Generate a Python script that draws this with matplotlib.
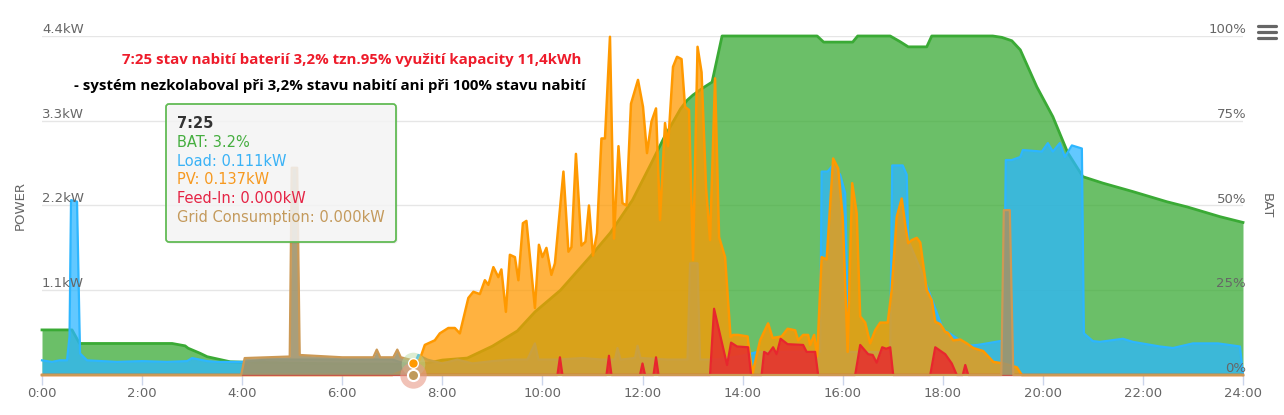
import numpy as np
import matplotlib
matplotlib.use("Agg")
import matplotlib.pyplot as plt
import matplotlib.transforms as mtrans
from matplotlib.patches import FancyBboxPatch
from matplotlib.lines import Line2D

# ---------------- data ----------------
x_tick_hours = list(range(0, 25, 2))
x_tick_labels = [f"{h}:00" for h in x_tick_hours]
power_ticks = [1.1, 2.2, 3.3, 4.4]
power_labels = ["1.1kW", "2.2kW", "3.3kW", "4.4kW"]
bat_ticks = [0, 25, 50, 75, 100]
bat_labels = ["0%", "25%", "50%", "75%", "100%"]

bat_points = [(0, 13.3), (0.6, 13.3), (0.75, 9.3), (2.6, 9.3), (2.86, 8.6), (2.92, 7.9),
              (3.16, 6.4), (3.3, 5.4), (3.76, 3.9), (4.0, 3.8), (5.0, 3.5), (6.0, 3.3),
              (7.42, 3.2), (7.7, 3.5), (8.0, 4.4), (8.5, 5.0), (9.0, 8.5), (9.5, 13.0),
              (9.85, 18.6), (10.36, 25.0), (10.96, 35.0), (11.36, 42.0), (11.8, 51.6),
              (12.16, 62.0), (12.43, 70.0), (12.76, 78.5), (12.89, 81.0), (13.01, 82.6),
              (13.21, 84.7), (13.39, 86.4), (13.59, 100), (15.49, 100), (15.62, 98.2),
              (16.2, 98.2), (16.3, 100), (16.95, 100), (17.15, 98.3), (17.31, 96.8),
              (17.68, 96.8), (17.78, 100), (19.0, 100), (19.18, 99.6), (19.38, 98.6),
              (19.55, 95.9), (19.88, 85.0), (20.2, 76.2), (20.5, 65.5), (20.8, 58.5),
              (21.2, 56.6), (21.8, 54.1), (22.48, 51.1), (22.88, 49.6), (23.54, 46.7),
              (24.0, 45.0)]

load_points = [(0, 0.19), (0.2, 0.17), (0.35, 0.19), (0.5, 0.19), (0.55, 0.5), (0.58, 2.27),
               (0.7, 2.25), (0.76, 0.28), (0.9, 0.19), (1.5, 0.17), (2.0, 0.18), (2.5, 0.17),
               (2.9, 0.18), (3.0, 0.22), (3.3, 0.18), (3.5, 0.17), (4.0, 0.17), (4.5, 0.2),
               (6.0, 0.2), (7.0, 0.2), (7.42, 0.111), (7.52, 0.26), (7.7, 0.2), (8.0, 0.15),
               (8.3, 0.2), (8.6, 0.15), (9.0, 0.18), (9.4, 0.2), (9.7, 0.2), (9.85, 0.41),
               (9.92, 0.2), (10.3, 0.2), (10.8, 0.22), (11.2, 0.2), (11.45, 0.2), (11.5, 0.35),
               (11.56, 0.2), (11.85, 0.22), (11.9, 0.38), (11.96, 0.22), (12.5, 0.2),
               (12.9, 0.2), (12.95, 1.45), (13.1, 1.45), (13.15, 0.2), (13.5, 0.2),
               (14.0, 0.25), (14.3, 0.3), (14.6, 0.3), (15.0, 0.3), (15.55, 0.3),
               (15.58, 2.64), (15.7, 2.64), (15.8, 2.72), (15.95, 2.6), (16.05, 2.36),
               (16.12, 0.3), (16.5, 0.3), (16.95, 0.3), (16.99, 2.72), (17.2, 2.72),
               (17.28, 2.6), (17.31, 1.75), (17.6, 1.3), (18.0, 0.6), (18.5, 0.38),
               (18.7, 0.39), (19.15, 0.44), (19.22, 0.44), (19.26, 2.79), (19.38, 2.79),
               (19.55, 2.83), (19.6, 2.92), (19.98, 2.9), (20.1, 3.01), (20.2, 2.9),
               (20.34, 3.01), (20.44, 2.83), (20.58, 2.98), (20.78, 2.94), (20.82, 0.54),
               (21.0, 0.44), (21.14, 0.43), (21.6, 0.47), (21.8, 0.43), (22.34, 0.37),
               (22.6, 0.35), (23.0, 0.41), (23.5, 0.41), (23.94, 0.37), (24.0, 0.0)]

pv_points = [(0, 0.0), (7.0, 0.0), (7.2, 0.05), (7.42, 0.137), (7.55, 0.2), (7.65, 0.39),
             (7.85, 0.45), (7.95, 0.54), (8.12, 0.61), (8.25, 0.61), (8.35, 0.54), (8.52, 1.0),
             (8.62, 1.08), (8.75, 1.05), (8.85, 1.23), (8.92, 1.17), (9.02, 1.4), (9.12, 1.27),
             (9.18, 1.37), (9.27, 0.82), (9.35, 1.56), (9.45, 1.53), (9.52, 1.23), (9.61, 1.97),
             (9.68, 2.0), (9.85, 0.87), (9.93, 1.69), (10.0, 1.53), (10.08, 1.65), (10.18, 1.3),
             (10.25, 1.45), (10.42, 2.64), (10.52, 1.6), (10.58, 1.66), (10.67, 2.87),
             (10.78, 1.68), (10.86, 1.73), (10.93, 2.2), (11.01, 1.55), (11.09, 1.84),
             (11.18, 3.07), (11.25, 3.07), (11.35, 4.39), (11.43, 1.77), (11.52, 2.97),
             (11.6, 2.23), (11.68, 2.2), (11.77, 3.52), (11.91, 3.83), (12.01, 3.48),
             (12.09, 2.88), (12.18, 3.29), (12.27, 3.46), (12.35, 2.01), (12.45, 3.27),
             (12.51, 2.97), (12.61, 4.0), (12.69, 4.13), (12.78, 4.1), (12.85, 3.48),
             (12.93, 3.44), (13.01, 1.49), (13.1, 4.26), (13.18, 3.93), (13.27, 2.43),
             (13.35, 1.75), (13.45, 3.85), (13.53, 1.79), (13.65, 1.53), (13.76, 0.49),
             (13.81, 0.52), (13.91, 0.52), (14.1, 0.5), (14.15, 0.23), (14.2, 0.02),
             (14.35, 0.45), (14.51, 0.67), (14.6, 0.48), (14.78, 0.5), (14.9, 0.6),
             (15.05, 0.58), (15.11, 0.45), (15.21, 0.52), (15.31, 0.52), (15.35, 0.39),
             (15.43, 0.52), (15.49, 0.24), (15.58, 1.53), (15.68, 1.5), (15.81, 2.81),
             (15.91, 2.68), (16.0, 2.05), (16.1, 0.3), (16.19, 2.49), (16.28, 2.1),
             (16.35, 0.76), (16.45, 0.68), (16.55, 0.41), (16.65, 0.58), (16.75, 0.68),
             (16.9, 0.68), (16.98, 1.1), (17.08, 2.05), (17.18, 2.29), (17.25, 1.95),
             (17.31, 1.71), (17.38, 1.75), (17.48, 1.78), (17.55, 1.72), (17.68, 1.1),
             (17.78, 0.97), (17.85, 0.69), (17.95, 0.66), (18.05, 0.56), (18.1, 0.55),
             (18.21, 0.45), (18.35, 0.46), (18.48, 0.41), (18.61, 0.35), (18.81, 0.31),
             (19.01, 0.17), (19.21, 0.15), (19.48, 0.1), (19.58, 0.0), (24.0, 0.0)]

feed_points = [(0, 0), (10.3, 0), (10.35, 0.23), (10.4, 0), (11.28, 0), (11.33, 0.25),
               (11.38, 0), (11.95, 0), (12.0, 0.15), (12.05, 0), (12.22, 0), (12.27, 0.23),
               (12.32, 0), (13.35, 0), (13.43, 0.86), (13.69, 0.13), (13.77, 0.42),
               (13.89, 0.37), (14.11, 0.36), (14.17, 0), (14.38, 0), (14.43, 0.3),
               (14.51, 0.27), (14.61, 0.36), (14.68, 0.27), (14.76, 0.47), (14.9, 0.4),
               (15.21, 0.39), (15.28, 0.3), (15.45, 0.3), (15.51, 0), (16.25, 0),
               (16.35, 0.39), (16.51, 0.27), (16.6, 0.26), (16.68, 0.16), (16.79, 0.36),
               (16.87, 0.34), (16.95, 0.36), (17.01, 0), (17.75, 0), (17.85, 0.36),
               (18.05, 0.27), (18.18, 0.15), (18.28, 0), (18.4, 0), (18.45, 0.13),
               (18.51, 0), (24, 0)]

grid_points = [(0, 0), (3.98, 0), (4.05, 0.22), (4.95, 0.24), (4.99, 2.69), (5.1, 2.69),
               (5.15, 0.26), (6.0, 0.23), (6.62, 0.23), (6.69, 0.33), (6.76, 0.23),
               (7.02, 0.23), (7.1, 0.33), (7.17, 0.23), (7.35, 0.2), (7.42, 0.0),
               (19.17, 0.0), (19.22, 2.14), (19.34, 2.14), (19.41, 0.0), (24, 0)]

tooltip_time = "7:25"
tooltip_hour = 7 + 25 / 60
tooltip_bat = 3.2
tooltip_load = 0.111
tooltip_pv = 0.137
tooltip_feed = 0.000
tooltip_grid = 0.000

title_red = "7:25 stav nabití baterií 3,2% tzn.95% využití kapacity 11,4kWh"
title_black = "- systém nezkolaboval při 3,2% stavu nabití ani při 100% stavu nabití"

# ---------------- styles ----------------
C_BAT = "#3aaa35"
C_LOAD = "#2db6ff"
C_PV = "#ff9900"
C_FEED = "#e8262e"
C_GRID_FILL = "#a0946c"
C_GRID_LINE = "#cc9955"
C_TXT = "#666666"

W, H = 1284, 415
fig = plt.figure(figsize=(W / 100, H / 100), dpi=100)
fig.patch.set_facecolor("white")
L, R, T, B = 42, 1243, 36, 375
ax = fig.add_axes([L / W, 1 - B / H, (R - L) / W, (B - T) / H])
ax2 = ax.twinx()
ax.set_zorder(2)
ax2.set_zorder(1)
ax.patch.set_visible(False)

ax.set_xlim(0, 24)
ax.set_ylim(0, 4.4)
ax2.set_ylim(0, 100)

for a in (ax, ax2):
    for s in a.spines.values():
        s.set_visible(False)
ax.spines["bottom"].set_visible(True)
ax.spines["bottom"].set_color("#ccd6eb")
ax.spines["bottom"].set_zorder(0.5)

# grid lines (on back axis)
ax2.set_yticks(bat_ticks)
ax2.grid(axis="y", color="#e6e6e6", lw=1)
ax2.set_axisbelow(True)
ax2.tick_params(axis="y", length=0, labelright=False)
ax.tick_params(axis="y", left=False, labelleft=False)

ax.set_xticks(x_tick_hours)
ax.set_xticklabels(x_tick_labels)
ax.tick_params(axis="x", length=7.2, width=1, color="#ccd6eb", labelsize=9.5,
               labelcolor=C_TXT, pad=1.5)
for lab in ax.get_xticklabels():
    lab.set_family("DejaVu Sans")


def split(points):
    h, v = zip(*points)
    return np.array(h, float), np.array(v, float)


bh, bv = split(bat_points)
lh, lv = split(load_points)
ph, pv = split(pv_points)
fh, fv = split(feed_points)
gh, gv = split(grid_points)

# BAT (back axis)
ax2.fill_between(bh, 0, bv, color=C_BAT, alpha=0.75, lw=0, zorder=2)
ax2.plot(bh, bv, color=C_BAT, lw=2.0, clip_on=False, solid_joinstyle="round", zorder=3)

# power series, each area with its own line, stacked in drawing order
series = [
    (lh, lv, C_LOAD, C_LOAD, 0.75, 1.6),
    (ph, pv, C_PV, C_PV, 0.75, 1.8),
    (fh, fv, C_FEED, C_FEED, 0.8, 1.6),
    (gh, gv, C_GRID_FILL, C_GRID_LINE, 0.9, 1.6),
]
for i, (xh, yv, cf, cl, al, lw) in enumerate(series):
    ax.fill_between(xh, 0, yv, color=cf, alpha=al, lw=0, zorder=2 + 2 * i)
    ax.plot(xh, yv, color=cl, lw=lw, clip_on=False, zorder=3 + 2 * i,
            solid_joinstyle="round")

# hover markers at tooltip time
bat_kw = tooltip_bat / 100 * 4.4
ax.plot([tooltip_hour], [bat_kw], "o", ms=17, color="#b5d99a", alpha=0.45, mew=0,
        clip_on=False, zorder=20)
ax.plot([tooltip_hour], [0], "o", ms=19, color="#e89a88", alpha=0.6, mew=0,
        clip_on=False, zorder=20)
ax.plot([tooltip_hour], [tooltip_pv + 0.02], "o", ms=7, color=C_PV, mec="white", mew=1,
        clip_on=False, zorder=21)
ax.plot([tooltip_hour], [tooltip_grid], "o", ms=8, color="#c09a5a", mec="white", mew=1.5,
        clip_on=False, zorder=21)

# y-axis labels (above grid lines, drawn on top of the series)
fs_tick = 9.5
tr_left = mtrans.offset_copy(ax.get_yaxis_transform(), fig=fig, x=0, y=3, units="dots")
for v, s in zip(power_ticks, power_labels):
    ax.text(0, v, s, transform=tr_left, ha="left", va="baseline", fontsize=fs_tick,
            color=C_TXT, family="DejaVu Sans", zorder=30)
tr_right = mtrans.offset_copy(ax2.get_yaxis_transform(), fig=fig, x=3, y=3, units="dots")
for v, s in zip(bat_ticks, bat_labels):
    fig.text(0, 0, s, transform=tr_right, ha="right", va="baseline", fontsize=fs_tick,
             color=C_TXT, family="DejaVu Sans", zorder=30).set_position((1, v))

ident = mtrans.IdentityTransform()
fig.text(20, H - (T + B) / 2, "POWER", transform=ident, rotation=90, ha="center",
         va="center", fontsize=fs_tick, color=C_TXT, family="DejaVu Sans")
fig.text(1266, H - (T + B) / 2, "BAT", transform=ident, rotation=270, ha="center",
         va="center", fontsize=fs_tick, color=C_TXT, family="DejaVu Sans")

# hamburger menu
for yy in (26, 32, 38):
    fig.add_artist(Line2D([1258, 1276], [H - yy, H - yy], transform=ident, color="#666666",
                          lw=2.3, solid_capstyle="round"))

# annotation texts
renderer = fig.canvas.get_renderer()


def fit(t, target):
    w = t.get_window_extent(renderer).width
    t.set_fontsize(t.get_fontsize() * target / w)


t1 = fig.text(352, H - 60, title_red, transform=ident, ha="center", va="center",
              fontsize=11, color="#ee1c2b", weight="bold", family="Open Sans")
fit(t1, 460)
t2 = fig.text(330, H - 86, title_black, transform=ident, ha="center", va="center",
              fontsize=11, color="black", weight="bold", family="Open Sans")
fit(t2, 510)

# tooltip
tx0, ty0, tw, th = 166, 104, 230, 138
shadow = FancyBboxPatch((tx0 + 1.5, H - ty0 - th - 1.5), tw, th,
                        boxstyle="round,pad=0,rounding_size=3", transform=ident,
                        facecolor="black", alpha=0.08, edgecolor="none", zorder=9)
fig.add_artist(shadow)
box = FancyBboxPatch((tx0, H - ty0 - th), tw, th, boxstyle="round,pad=0,rounding_size=3",
                     transform=ident, facecolor="#f7f7f7", alpha=0.85, edgecolor="none",
                     zorder=10)
fig.add_artist(box)
border = FancyBboxPatch((tx0, H - ty0 - th), tw, th, boxstyle="round,pad=0,rounding_size=3",
                        transform=ident, facecolor="none", edgecolor="#62bb55", lw=1.3,
                        zorder=11)
fig.add_artist(border)

tip_lines = [
    (tooltip_time, "#333333", "bold"),
    (f"BAT: {tooltip_bat:.1f}%", "#45ae3f", "normal"),
    (f"Load: {tooltip_load:.3f}kW", "#3ab2f5", "normal"),
    (f"PV: {tooltip_pv:.3f}kW", "#f7991f", "normal"),
    (f"Feed-In: {tooltip_feed:.3f}kW", "#e52445", "normal"),
    (f"Grid Consumption: {tooltip_grid:.3f}kW", "#c49a5c", "normal"),
]
tip_y = [123, 142, 161, 179, 198, 217]
for (s, c, wgt), yy in zip(tip_lines, tip_y):
    fig.text(177, H - yy, s, transform=ident, ha="left", va="center", fontsize=10.5,
             color=c, weight=wgt, family="DejaVu Sans", zorder=12)

fig.savefig("out.png", dpi=100, facecolor="white")
